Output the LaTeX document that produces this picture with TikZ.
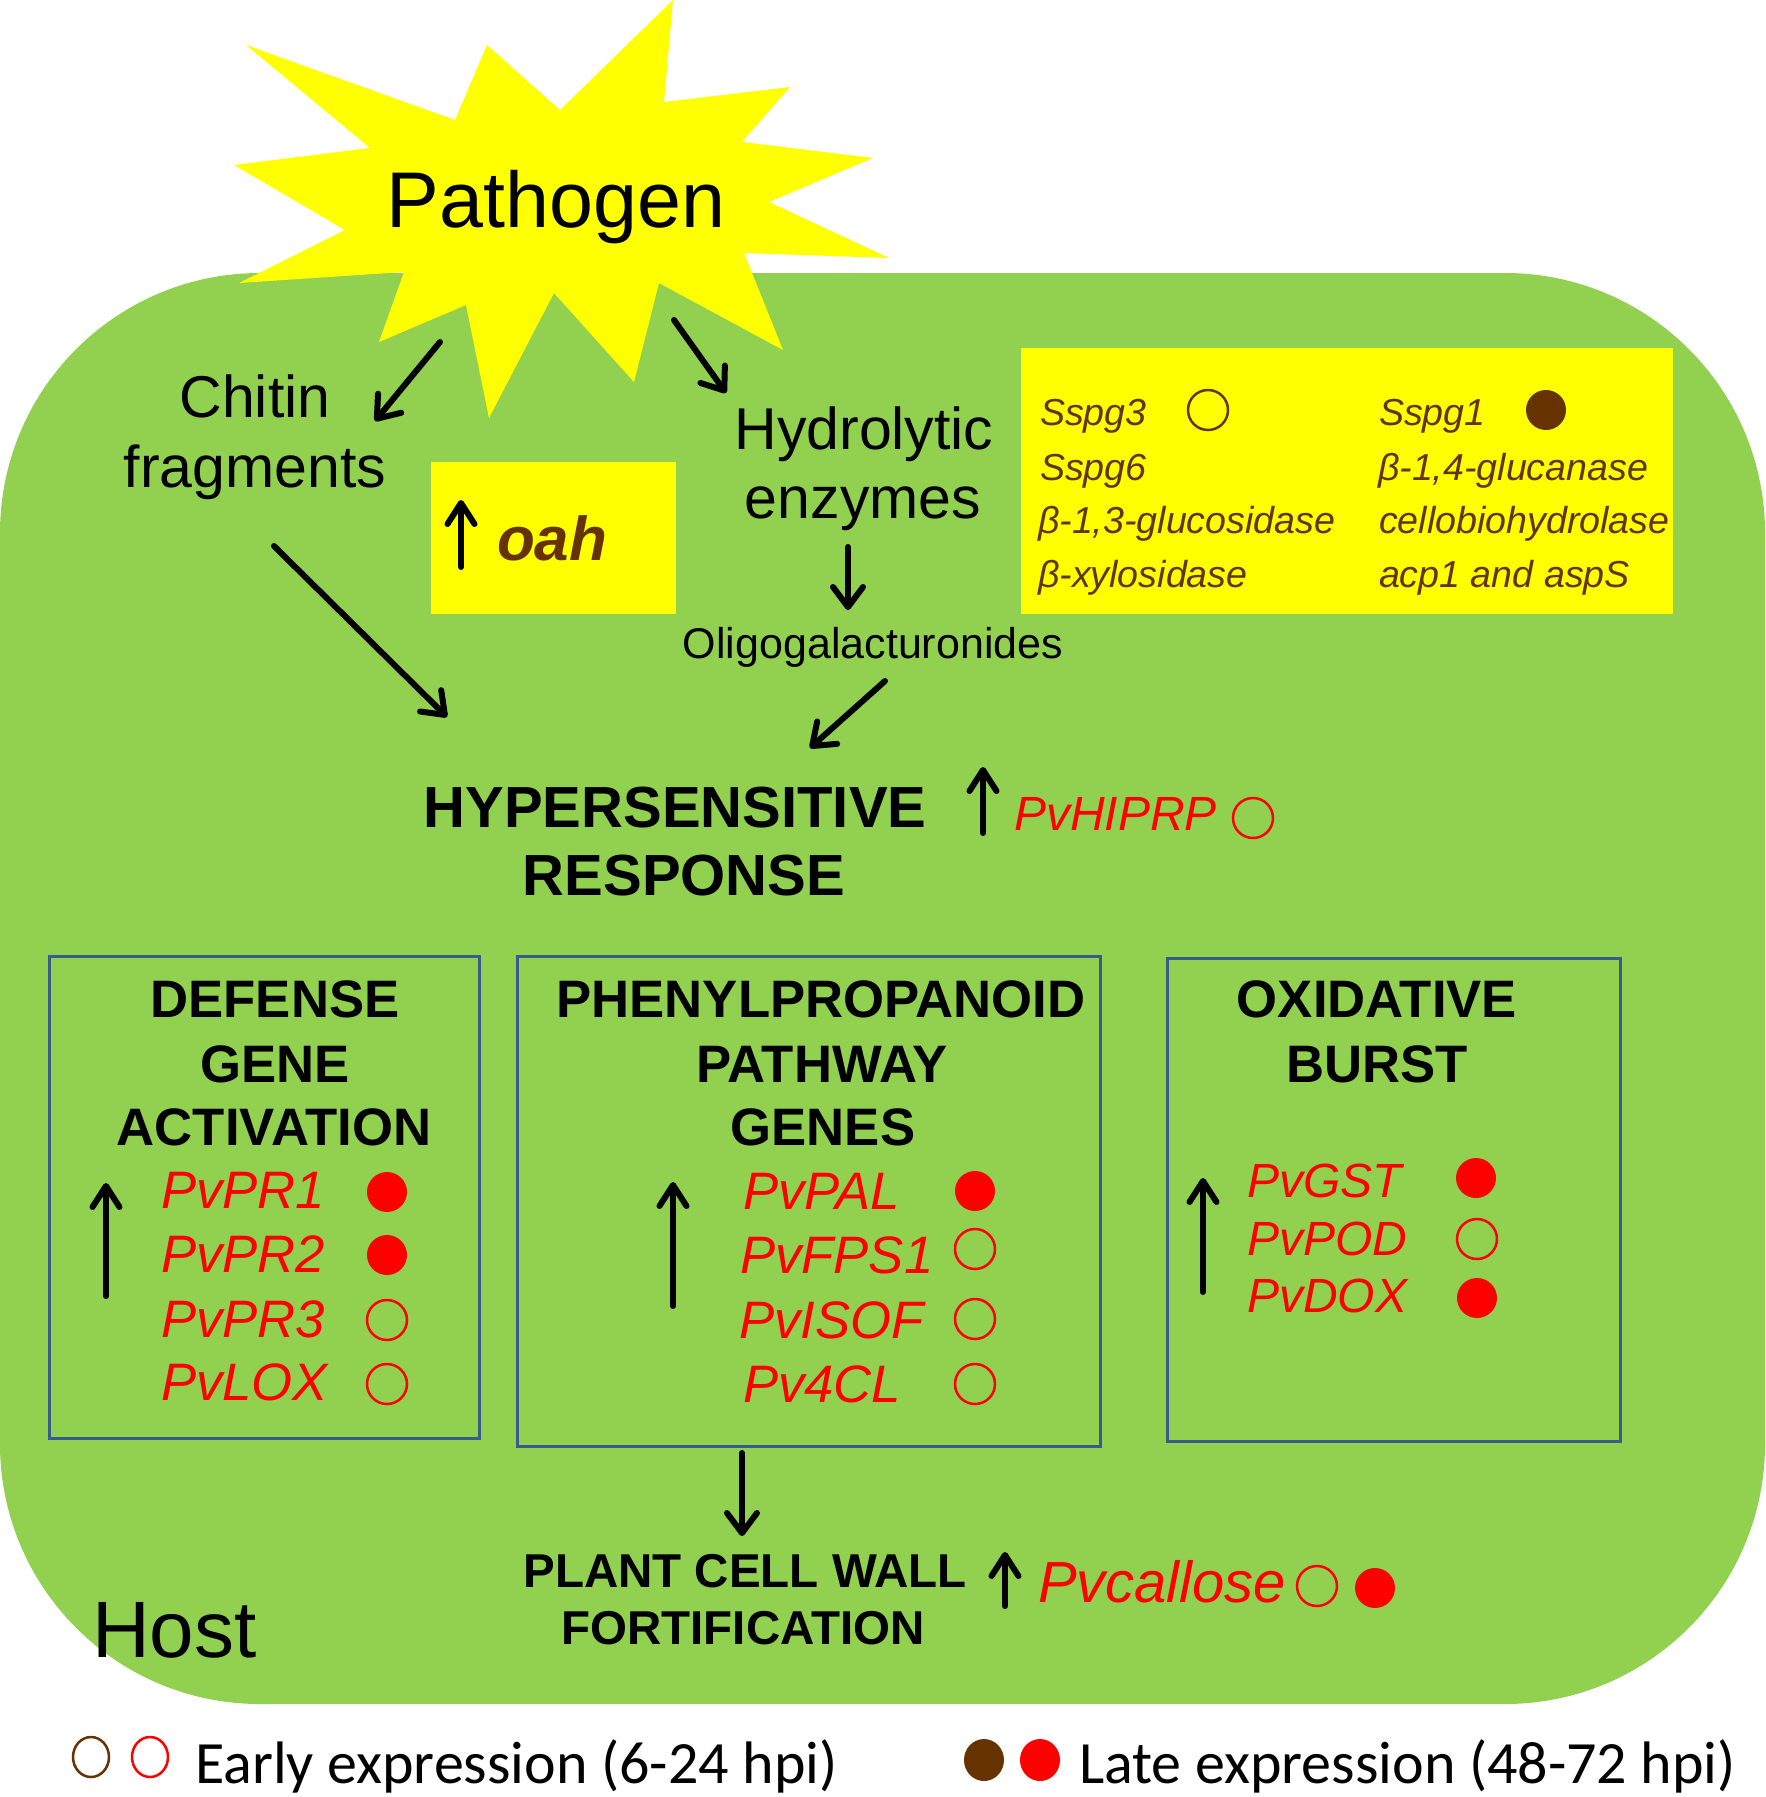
\documentclass[tikz,border=0pt]{standalone}
\usepackage{fontspec}
\setmainfont{Liberation Sans}
\newfontfamily\legendfont{Carlito}
\usetikzlibrary{arrows.meta,shapes.geometric}
\definecolor{hostgreen}{RGB}{146,208,80}
\definecolor{pyellow}{RGB}{255,255,0}
\definecolor{pbrown}{RGB}{102,51,0}
\definecolor{boxblue}{RGB}{56,93,138}
\newcommand\myfs[1]{\fontsize{#1}{#1}\selectfont}
\tikzset{
  txtc/.style={inner sep=0pt, outer sep=0pt, anchor=base},
  txtl/.style={inner sep=0pt, outer sep=0pt, anchor=base west},
  arr/.style={line width=6pt, line cap=round, -{Straight Barb[length=20pt,width=30pt,round]}},
  uparr/.style={line width=6pt, line cap=round, -{Straight Barb[length=21pt,width=27pt,round]}},
  gbox/.style={draw=boxblue, line width=2.5pt, inner sep=0pt, anchor=north west},
  ybox/.style={fill=pyellow, inner sep=0pt, anchor=north west},
  lbl/.style={txtc, font={\myfs{59}}},
  hdr/.style={txtc, font={\myfs{58}\bfseries}},
  ttl/.style={txtc, font={\myfs{52.7}\bfseries}},
  gene/.style={txtl, text=red, font={\myfs{52.7}\itshape}},
  geneb/.style={txtl, text=red, font={\myfs{48}\itshape}},
  enz/.style={txtl, text=pbrown, font={\myfs{37.6}\itshape}},
  ropen/.style={circle, draw=red, line width=2.5pt, minimum size=40pt, inner sep=0pt},
  rfull/.style={circle, fill=red, minimum size=40pt, inner sep=0pt},
  bopen/.style={circle, draw=pbrown, line width=2.5pt, minimum size=40pt, inner sep=0pt},
  bfull/.style={circle, fill=pbrown, minimum size=40pt, inner sep=0pt},
}
\begin{document}
\begin{tikzpicture}[x=1pt,y=-1pt]
\useasboundingbox (0,0) rectangle (1765,1797);
% host cell
\fill[hostgreen, rounded corners=260pt] (0,273) rectangle (1765,1704);
% pathogen star
\fill[pyellow] (673,0) -- (664,102) -- (790,87) -- (742,142) -- (873,158) -- (769,202)
  -- (889,258) -- (744,253) -- (783,350) -- (659,283) -- (634,382) -- (554,293)
  -- (489,418) -- (466,305) -- (379,342) -- (404,272) -- (239,283) -- (345,230)
  -- (234,165) -- (370,148) -- (246,45) -- (455,120) -- (487,45) -- (560,110) -- cycle;
\node[txtc, font={\myfs{79}}] (pathogen) at (556,227) {Pathogen};

% chitin / hydrolytic
\node[lbl] (chitin) at (255,417) {Chitin};
\node[lbl] (chitin2) at (255,487) {fragments};
\node[lbl] (hydro) at (864,449) {Hydrolytic};
\node[lbl] (hydro2) at (863,518) {enzymes};
\node[txtc, font={\myfs{43}}] (oligo) at (873,658) {Oligogalacturonides};

\coordinate (pc1) at (440,342); \coordinate (pc2) at (375,421);
\coordinate (ph1) at (674,320); \coordinate (ph2) at (726,393);
\coordinate (ch1) at (274,546); \coordinate (ch2) at (447,717);
\coordinate (ho1) at (848,547); \coordinate (ho2) at (848,610);
\coordinate (oh1) at (885,681); \coordinate (oh2) at (810,748);
\draw[arr] (pc1) -- (pc2);
\draw[arr] (ph1) -- (ph2);
\draw[arr] (ch1) -- (ch2);
\draw[arr] (ho1) -- (ho2);
\draw[arr] (oh1) -- (oh2);

% oah box
\node[ybox, minimum width=245pt, minimum height=152pt] (oahbox) at (431,462) {};
\coordinate (oa1) at (461,567); \coordinate (oa2) at (461,500);
\draw[uparr] (oa1) -- (oa2);
\node[txtl, text=pbrown, font={\myfs{62}\bfseries\itshape}] (oah) at (497,560) {oah};

% enzyme box
\node[ybox, minimum width=652pt, minimum height=266pt] (enzbox) at (1021,348) {};
\node[enz] (e1) at (1040,425) {Sspg3};
\node[enz] (e2) at (1040,480) {Sspg6};
\node[enz] (e3) at (1038,533) {β-1,3-glucosidase};
\node[enz] (e4) at (1038,587) {β-xylosidase};
\node[enz] (e5) at (1379,425) {Sspg1};
\node[enz] (e6) at (1378,480) {β-1,4-glucanase};
\node[enz] (e7) at (1379,533) {cellobiohydrolase};
\node[enz] (e8) at (1379,587) {acp1 and aspS};
\node[bopen] (ec1) at (1208,410) {};
\node[bfull] (ec2) at (1546,410) {};

% hypersensitive response
\node[hdr] (hr1) at (675,827) {HYPERSENSITIVE};
\node[hdr] (hr2) at (684,895) {RESPONSE};
\coordinate (hra1) at (983,833); \coordinate (hra2) at (983,767);
\draw[uparr] (hra1) -- (hra2);
\node[txtl, text=red, font={\myfs{48}\itshape}] (hiprp) at (1014,830) {PvHIPRP};
\node[ropen] (hc) at (1253,818) {};

% three boxes
\node[gbox, minimum width=430pt, minimum height=482pt] (box1) at (48,955) {};
\node[gbox, minimum width=583pt, minimum height=490pt] (box2) at (516,955) {};
\node[gbox, minimum width=453pt, minimum height=483pt] (box3) at (1166,957) {};

% box 1
\node[ttl] (b1t1) at (275,1017) {DEFENSE};
\node[ttl] (b1t2) at (275,1082) {GENE};
\node[ttl] (b1t3) at (274,1145) {ACTIVATION};
\coordinate (b1a1) at (106,1296); \coordinate (b1a2) at (106,1183);
\draw[uparr] (b1a1) -- (b1a2);
\node[gene] (g11) at (161,1208) {PvPR1};
\node[gene] (g12) at (161,1272) {PvPR2};
\node[gene] (g13) at (161,1337) {PvPR3};
\node[gene] (g14) at (161,1400) {PvLOX};
\node[rfull] (c11) at (387,1192) {};
\node[rfull] (c12) at (387,1255) {};
\node[ropen] (c13) at (387,1320) {};
\node[ropen] (c14) at (387,1384) {};

% box 2
\node[ttl] (b2t1) at (821,1017) {PHENYLPROPANOID};
\node[ttl] (b2t2) at (822,1082) {PATHWAY};
\node[ttl] (b2t3) at (823,1145) {GENES};
\coordinate (b2a1) at (673,1306); \coordinate (b2a2) at (673,1182);
\draw[uparr] (b2a1) -- (b2a2);
\node[gene] (g21) at (743,1209) {PvPAL};
\node[gene] (g22) at (740,1273) {PvFPS1};
\node[gene] (g23) at (739,1338) {PvISOF};
\node[gene] (g24) at (743,1402) {Pv4CL};
\node[rfull] (c21) at (975,1191) {};
\node[ropen] (c22) at (975,1249) {};
\node[ropen] (c23) at (975,1319) {};
\node[ropen] (c24) at (975,1384) {};

% box 3
\node[ttl] (b3t1) at (1377,1017) {OXIDATIVE};
\node[ttl] (b3t2) at (1377,1082) {BURST};
\coordinate (b3a1) at (1203,1292); \coordinate (b3a2) at (1203,1178);
\draw[uparr] (b3a1) -- (b3a2);
\node[geneb] (g31) at (1247,1197) {PvGST};
\node[geneb] (g32) at (1247,1255) {PvPOD};
\node[geneb] (g33) at (1247,1312) {PvDOX};
\node[rfull] (c31) at (1476,1178) {};
\node[ropen] (c32) at (1477,1239) {};
\node[rfull] (c33) at (1477,1298) {};

% cell wall
\coordinate (pw1) at (742,1453); \coordinate (pw2) at (742,1536);
\draw[arr] (pw1) -- (pw2);
\node[txtc, font={\myfs{47.5}\bfseries}] (cw1) at (745,1587) {PLANT CELL WALL};
\node[txtc, font={\myfs{47.5}\bfseries}] (cw2) at (743,1644) {FORTIFICATION};
\coordinate (cwa1) at (1005,1606); \coordinate (cwa2) at (1005,1552);
\draw[uparr] (cwa1) -- (cwa2);
\node[txtl, text=red, font={\myfs{58}\itshape}] (callose) at (1038,1602) {Pvcallose};
\node[ropen] (cc1) at (1317,1586) {};
\node[rfull] (cc2) at (1375,1588) {};

% host label
\node[txtl, font={\myfs{80}}] (host) at (92,1657) {Host};

% legend
\node[ellipse, draw=pbrown, line width=2.5pt, minimum width=36pt, minimum height=40pt, inner sep=0pt] (l1) at (91,1757) {};
\node[ellipse, draw=red, line width=2.5pt, minimum width=36pt, minimum height=40pt, inner sep=0pt] (l2) at (150,1757) {};
\node[txtl, font={\legendfont\myfs{60}}] (lt1) at (195,1783) {Early expression (6-24 hpi)};
\node[ellipse, fill=pbrown, minimum width=40pt, minimum height=42pt, inner sep=0pt] (l3) at (984,1760) {};
\node[ellipse, fill=red, minimum width=40pt, minimum height=42pt, inner sep=0pt] (l4) at (1040,1760) {};
\node[txtl, font={\legendfont\myfs{60}}] (lt2) at (1079,1783) {Late expression (48-72 hpi)};
\end{tikzpicture}
\end{document}
